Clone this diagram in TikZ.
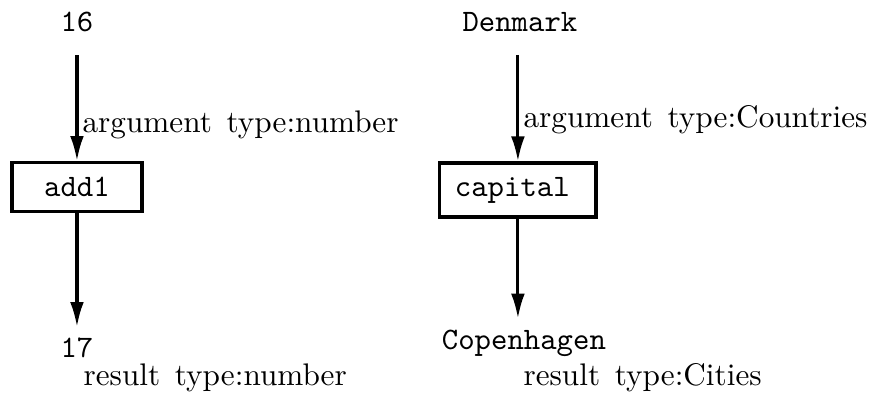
\documentclass[tikz,border=0pt]{standalone}
\usepackage{tikz}
\usetikzlibrary{arrows.meta,positioning}

\begin{document}
\begin{tikzpicture}[
    func/.style={rectangle, draw=black, line width=1pt, minimum height=0.55cm, font=\ttfamily},
    value/.style={font=\ttfamily},
    typelabel/.style={anchor=west, inner sep=0pt},
    arrow/.style={-{Latex[length=8pt,width=4.4pt]}, line width=1pt}
]
\useasboundingbox (0,0) rectangle (9.80,4.478);

% add1 mapping
\node[value] (n_in) at (0.866,4.23) {16};
\node[func, minimum width=1.4625cm] (add1) at (0.866,2.374) {add1};
\node[value] (n_out) at (0.866,0.5625) {17};
\node[typelabel] (n_arg) at (0.9225,3.07) {argument\hspace{4.7pt}type:number};
\node[typelabel] (n_res) at (0.934,0.225) {result\hspace{4.7pt}type:number};

\draw[arrow, shorten <=3.9pt] (n_in) -- (add1);
\draw[arrow] (add1) -- (n_out);

% capital mapping
\node[value] (c_in) at (5.85,4.23) {Denmark};
\node[func, text width=1.4175cm, inner xsep=0.169cm, align=left, minimum height=0.6075cm] (capital) at (5.8275,2.34) {capital};
\node[value] (c_out) at (5.895,0.619) {Copenhagen};
\node[typelabel] (c_arg) at (5.884,3.1275) {argument\hspace{4.7pt}type:Countries};
\node[typelabel] (c_res) at (5.884,0.225) {result\hspace{4.7pt}type:Cities};

\draw[arrow, shorten <=3.9pt] (c_in.south -| capital) -- (capital);
\draw[arrow] (capital) -- (capital |- c_out.north);
\end{tikzpicture}
\end{document}
